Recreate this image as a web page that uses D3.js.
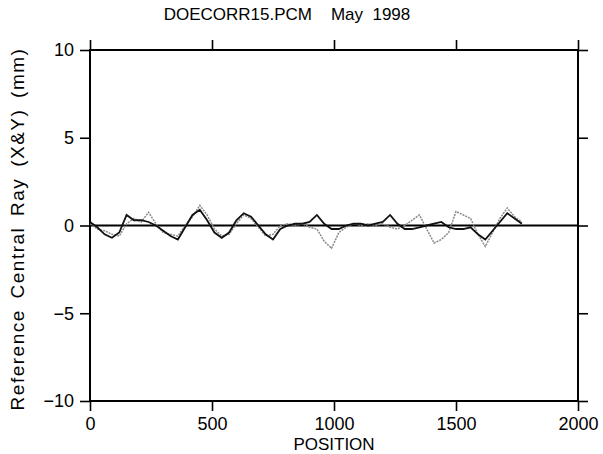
<!DOCTYPE html>
<html>
<head>
<meta charset="utf-8">
<script src="https://cdn.jsdelivr.net/npm/d3@7"></script>
<style>
body { margin: 0; background: #fff; }
text { font-family: "Liberation Sans", Arial, sans-serif; fill: #000; }
</style>
</head>
<body>
<div id="chart-area"></div>
<script>
var positions = [0, 30, 60, 90, 120, 150, 180, 210, 240, 270, 300, 330, 360, 390, 420, 450, 480, 510, 540, 570,
    600, 630, 660, 690, 720, 750, 780, 810, 840, 870, 900, 930, 960, 990, 1020, 1050, 1080, 1110, 1140, 1170,
    1200, 1230, 1260, 1290, 1320, 1350, 1380, 1410, 1440, 1470, 1500, 1530, 1560, 1590, 1620, 1650, 1680, 1710, 1740, 1770];

var rayX = [0.2, -0.1, -0.5, -0.7, -0.4, 0.6, 0.3, 0.3, 0.2, 0.0, -0.3, -0.6, -0.8, -0.1, 0.6, 0.9, 0.3, -0.4, -0.7, -0.4,
    0.3, 0.7, 0.5, 0.0, -0.5, -0.8, -0.2, 0.0, 0.1, 0.1, 0.2, 0.6, 0.1, -0.2, -0.2, 0.0, 0.1, 0.1, 0.0, 0.1,
    0.2, 0.6, 0.1, -0.2, -0.2, -0.1, 0.0, 0.1, 0.2, -0.1, -0.2, -0.2, -0.1, -0.5, -0.8, -0.3, 0.2, 0.7, 0.4, 0.1];

var rayY = [0.1, -0.2, -0.3, -0.5, -0.6, 0.1, 0.4, 0.2, 0.75, 0.1, -0.4, -0.5, -0.6, 0.0, 0.5, 1.15, 0.6, -0.2, -0.6, -0.5,
    0.1, 0.6, 0.4, -0.1, -0.6, -0.5, 0.0, 0.1, 0.0, 0.1, -0.1, -0.2, -0.9, -1.3, -0.4, -0.1, 0.1, 0.0, 0.1, 0.0,
    0.1, -0.1, -0.2, 0.0, 0.3, 0.6, -0.2, -1.0, -0.8, -0.4, 0.8, 0.6, 0.4, -0.5, -1.2, -0.4, 0.4, 1.0, 0.5, 0.2];

var xTicks = [0, 500, 1000, 1500, 2000];
var yTicks = [-10, -5, 0, 5, 10];

var margin = {left: 90, right: 25, top: 50, bottom: 53};
var width = 488;
var height = 351;

var svg = d3.select('#chart-area')
    .append('svg')
    .attr('width', 603)
    .attr('height', 454);

var g = svg.append('g')
    .attr('transform', 'translate(' + margin.left + ', ' + margin.top + ')');

var x = d3.scaleLinear().domain([0, 2000]).range([0, width]);
var y = d3.scaleLinear().domain([-10, 10]).range([height, 0]);

// frame
g.append('rect')
    .attr('x', 0).attr('y', 0)
    .attr('width', width).attr('height', height)
    .attr('fill', 'none')
    .attr('stroke', '#000')
    .attr('stroke-width', 2);

function styleAxis(sel) {
    sel.select('.domain').remove();
    sel.selectAll('line').attr('stroke', '#000').attr('stroke-width', 1.6);
}

var tickLen = 10;

g.append('g').attr('class', 'left axis')
    .call(d3.axisLeft(y).tickValues(yTicks).tickSize(tickLen).tickPadding(6)
        .tickFormat(function(d) { return d < 0 ? '\u2212' + Math.abs(d) : d; }))
    .call(styleAxis)
    .selectAll('text').attr('font-size', '18px');

g.append('g').attr('class', 'right axis')
    .attr('transform', 'translate(' + width + ', 0)')
    .call(d3.axisRight(y).tickValues(yTicks).tickSize(tickLen).tickFormat(''))
    .call(styleAxis);

g.append('g').attr('class', 'bottom axis')
    .attr('transform', 'translate(0, ' + height + ')')
    .call(d3.axisBottom(x).tickValues(xTicks).tickSize(tickLen).tickPadding(6)
        .tickFormat(d3.format('d')))
    .call(styleAxis)
    .selectAll('text').attr('font-size', '18px');

g.append('g').attr('class', 'top axis')
    .call(d3.axisTop(x).tickValues(xTicks).tickSize(tickLen).tickFormat(''))
    .call(styleAxis);

// zero line
g.append('line')
    .attr('x1', 0).attr('x2', width)
    .attr('y1', y(0)).attr('y2', y(0))
    .attr('stroke', '#000')
    .attr('stroke-width', 2);

var line = function(vals) {
    return d3.line()
        .x(function(d, i) { return x(positions[i]); })
        .y(function(d) { return y(d); })(vals);
};

g.append('path')
    .attr('d', line(rayY))
    .attr('fill', 'none')
    .attr('stroke', '#8a8a8a')
    .attr('stroke-width', 1.5)
    .attr('stroke-dasharray', '2,1');

g.append('path')
    .attr('d', line(rayX))
    .attr('fill', 'none')
    .attr('stroke', '#111')
    .attr('stroke-width', 1.8);

// title
svg.append('text')
    .attr('x', 287)
    .attr('y', 20)
    .attr('text-anchor', 'middle')
    .attr('font-size', '17px')
    .attr('xml:space', 'preserve')
    .text('DOECORR15.PCM    May  1998');

// x label
svg.append('text')
    .attr('x', margin.left + width / 2)
    .attr('y', 450)
    .attr('text-anchor', 'middle')
    .attr('font-size', '17px')
    .text('POSITION');

// y label
svg.append('text')
    .attr('transform', 'translate(24, 229) rotate(-90)')
    .attr('text-anchor', 'middle')
    .attr('font-size', '19px')
    .attr('letter-spacing', '1.5px')
    .attr('word-spacing', '4px')
    .text('Reference Central Ray (X&Y) (mm)');
</script>
</body>
</html>
